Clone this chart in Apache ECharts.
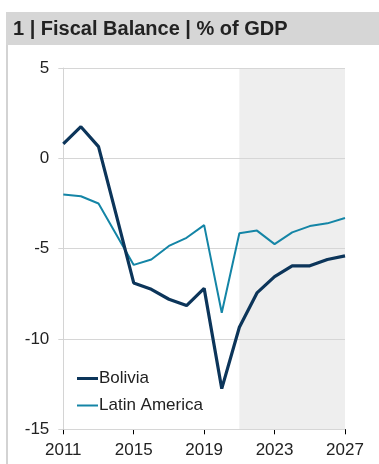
<!DOCTYPE html>
<html>
<head>
<meta charset="utf-8">
<script src="https://cdn.jsdelivr.net/npm/echarts@6/dist/echarts.min.js"></script>
<style>
html,body{margin:0;padding:0;background:#fff;}
#chart{width:379px;height:464px;}
</style>
</head>
<body>
<div id="chart"></div>
<script>
var years = ['2011','2012','2013','2014','2015','2016','2017','2018','2019','2020','2021','2022','2023','2024','2025','2026','2027'];
var bolivia = [0.8, 1.75, 0.65, -3.1, -6.9, -7.25, -7.8, -8.15, -7.2, -12.75, -9.35, -7.45, -6.55, -5.95, -5.95, -5.6, -5.4];
var latinAmerica = [-2.0, -2.1, -2.5, -4.2, -5.9, -5.6, -4.85, -4.4, -3.7, -8.55, -4.15, -4.0, -4.75, -4.1, -3.75, -3.6, -3.3];
var forecastStart = '2021';
var forecastEnd = '2027';
var yTicks = {min: -15, max: 5, interval: 5};

var FONT = '"Liberation Sans", Arial, sans-serif';
var chart = echarts.init(document.getElementById('chart'), null, {renderer: 'canvas'});
chart.setOption({
  animation: false,
  backgroundColor: '#ffffff',
  textStyle: {fontFamily: FONT},
  title: {
    text: '1 | Fiscal Balance | % of GDP',
    left: 13, top: 18,
    textStyle: {fontSize: 20, fontWeight: 'bold', color: '#222222', fontFamily: FONT, lineHeight: 22},
    padding: 0
  },
  graphic: [
    {type: 'rect', left: 6, top: 12, shape: {width: 373, height: 33}, style: {fill: '#d6d6d6'}, z: -10},
    {type: 'line', shape: {x1: 7, y1: 45, x2: 7, y2: 464}, style: {stroke: '#d3d3d3', lineWidth: 2}, z: -10}
  ],
  legend: [
    {
      data: [{name: 'Bolivia', icon: 'rect'}],
      left: 77, top: 370, orient: 'vertical',
      itemWidth: 21, itemHeight: 3, itemGap: 0, padding: 0,
      textStyle: {fontSize: 17, color: '#222222', fontFamily: FONT, padding: [0, 0, 0, -4]},
      selectedMode: false
    },
    {
      data: [{name: 'Latin America', icon: 'rect'}],
      left: 77, top: 397, orient: 'vertical',
      itemWidth: 21, itemHeight: 2, itemGap: 0, padding: 0,
      textStyle: {fontSize: 17, color: '#222222', fontFamily: FONT, padding: [0, 0, 0, -4]},
      selectedMode: false
    }
  ],
  grid: {left: 63.3, right: 34, top: 68, bottom: 34.7, containLabel: false},
  xAxis: {
    type: 'category',
    data: years,
    boundaryGap: false,
    z: 0,
    axisLine: {show: true, onZero: false, lineStyle: {color: '#000000', width: 1}},
    axisTick: {show: true, interval: 3, length: 5, lineStyle: {color: '#000000'}},
    axisLabel: {interval: 3, fontSize: 17, color: '#222222', margin: 13, fontFamily: FONT},
    splitLine: {show: false}
  },
  yAxis: {
    type: 'value',
    min: yTicks.min, max: yTicks.max, interval: yTicks.interval,
    z: 2,
    axisLine: {show: true, lineStyle: {color: '#d4d4d4', width: 1}},
    axisTick: {show: true, length: 5, lineStyle: {color: '#d4d4d4'}},
    axisLabel: {fontSize: 17, color: '#222222', margin: 14, fontFamily: FONT},
    splitLine: {show: true, lineStyle: {color: '#d6d6d6', width: 1}}
  },
  series: [
    {
      name: 'forecast',
      type: 'line',
      data: [],
      z: 1,
      silent: true,
      markArea: {
        silent: true,
        z: 1,
        itemStyle: {color: '#eeeeee'},
        data: [[{xAxis: forecastStart}, {xAxis: forecastEnd}]]
      }
    },
    {
      name: 'Latin America',
      type: 'line',
      data: latinAmerica,
      z: 3,
      showSymbol: false,
      symbol: 'none',
      lineStyle: {color: '#1485a6', width: 2},
      itemStyle: {color: '#1485a6'}
    },
    {
      name: 'Bolivia',
      type: 'line',
      data: bolivia,
      z: 4,
      showSymbol: false,
      symbol: 'none',
      lineStyle: {color: '#0c355a', width: 3.2},
      itemStyle: {color: '#0c355a'}
    }
  ]
});
</script>
</body>
</html>
